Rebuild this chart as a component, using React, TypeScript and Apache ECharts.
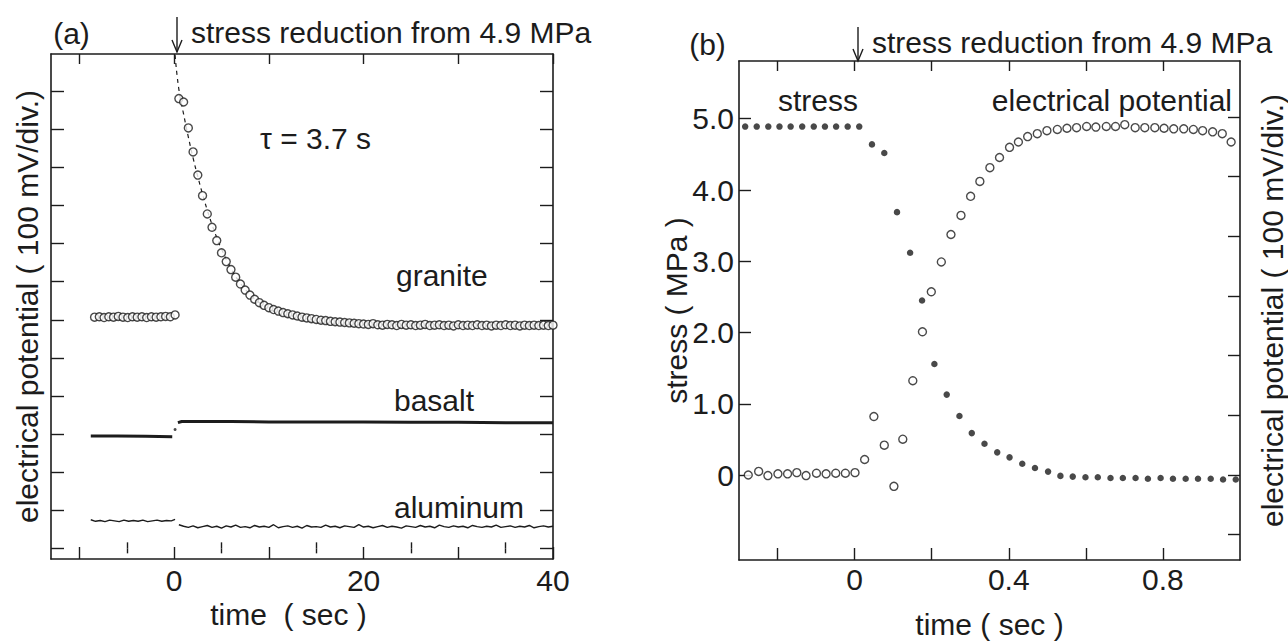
import React, { useEffect, useRef } from "react";
import * as echarts from "echarts";

// ---------- Panel (a): time (s) vs electrical potential (divisions) ----------
const granitePreT = [-8.4, -7.9, -7.4, -6.9, -6.4, -5.9, -5.4, -4.9, -4.4, -3.9, -3.4, -2.9, -2.4, -1.9, -1.4, -0.9, -0.4, 0.1];
const granitePreV = [6.07, 6.08, 6.06, 6.08, 6.07, 6.09, 6.07, 6.06, 6.08, 6.07, 6.08, 6.06, 6.08, 6.07, 6.08, 6.09, 6.08, 6.13];

const postT = [
  0.5, 1.0, 1.5, 2.0, 2.5, 3.0, 3.5, 4.0, 4.5, 5.0,
  5.5, 6.0, 6.5, 7.0, 7.5, 8.0, 8.5, 9.0, 9.5, 10.0,
  10.5, 11.0, 11.5, 12.0, 12.5, 13.0, 13.5, 14.0, 14.5, 15.0,
  15.5, 16.0, 16.5, 17.0, 17.5, 18.0, 18.5, 19.0, 19.5, 20.0,
  20.5, 21.0, 21.5, 22.0, 22.5, 23.0, 23.5, 24.0, 24.5, 25.0,
  25.5, 26.0, 26.5, 27.0, 27.5, 28.0, 28.5, 29.0, 29.5, 30.0,
  30.5, 31.0, 31.5, 32.0, 32.5, 33.0, 33.5, 34.0, 34.5, 35.0,
  35.5, 36.0, 36.5, 37.0, 37.5, 38.0, 38.5, 39.0, 39.5, 40.0,
];
const granitePostV = [
  11.81, 11.72, 11.04, 10.41, 9.80, 9.26, 8.78, 8.43, 8.08, 7.76,
  7.53, 7.32, 7.12, 6.94, 6.78, 6.65, 6.54, 6.45, 6.38, 6.32,
  6.27, 6.23, 6.19, 6.16, 6.13, 6.10, 6.07, 6.05, 6.03, 6.01,
  5.99, 5.98, 5.96, 5.95, 5.94, 5.93, 5.92, 5.91, 5.90, 5.89,
  5.88, 5.90, 5.87, 5.86, 5.88, 5.87, 5.85, 5.88, 5.86, 5.87,
  5.85, 5.86, 5.88, 5.85, 5.86, 5.87, 5.85, 5.86, 5.84, 5.87,
  5.85, 5.86, 5.85, 5.87, 5.85, 5.86, 5.84, 5.86, 5.85, 5.87,
  5.85, 5.86, 5.84, 5.86, 5.85, 5.86, 5.85, 5.86, 5.85, 5.86,
];
const graniteFitT = [0.1, 0.5, 1.0, 1.5, 2.0, 2.5, 3.0, 3.5, 4.0, 4.5, 5.0, 6.0, 7.0, 8.0, 9.0, 10.0, 12.0, 15.0, 20.0, 40.0];
const graniteFitV = [12.95, 12.05, 11.4, 10.8, 10.25, 9.76, 9.3, 8.88, 8.5, 8.16, 7.86, 7.35, 6.96, 6.67, 6.45, 6.29, 6.08, 5.94, 5.87, 5.86];

const basaltPreT = [-8.8, -6.0, -3.0, -0.2];
const basaltPreV = [2.95, 2.95, 2.94, 2.93];
const basaltJumpT = [0.1];
const basaltJumpV = [3.12];
const basaltPostT = [0.4, 0.8, 1.5, 3.0, 6.0, 10.0, 15.0, 20.0, 25.0, 30.0, 35.0, 40.0];
const basaltPostV = [3.3, 3.33, 3.33, 3.33, 3.33, 3.32, 3.32, 3.32, 3.31, 3.31, 3.3, 3.3];

const aluminumPreT = [-8.8, -8.3, -7.8, -7.3, -6.8, -6.3, -5.8, -5.3, -4.8, -4.3, -3.8, -3.3, -2.8, -2.3, -1.8, -1.3, -0.8, -0.3, 0.1];
const aluminumPreV = [0.75, 0.71, 0.73, 0.7, 0.74, 0.72, 0.7, 0.74, 0.71, 0.73, 0.71, 0.74, 0.7, 0.72, 0.74, 0.71, 0.73, 0.72, 0.76];
const aluminumPostV = [
  0.62, 0.58, 0.55, 0.59, 0.54, 0.57, 0.6, 0.55, 0.58, 0.53,
  0.59, 0.56, 0.61, 0.55, 0.57, 0.54, 0.6, 0.56, 0.58, 0.55,
  0.62, 0.54, 0.57, 0.59, 0.55, 0.58, 0.53, 0.6, 0.56, 0.57,
  0.55, 0.61, 0.56, 0.58, 0.54, 0.59, 0.57, 0.55, 0.62, 0.56,
  0.58, 0.54, 0.57, 0.6, 0.55, 0.58, 0.56, 0.53, 0.59, 0.57,
  0.55, 0.6, 0.56, 0.58, 0.54, 0.61, 0.57, 0.55, 0.59, 0.56,
  0.58, 0.54, 0.6, 0.57, 0.55, 0.58, 0.56, 0.61, 0.55, 0.57,
  0.59, 0.55, 0.58, 0.56, 0.6, 0.54, 0.57, 0.59, 0.56, 0.58,
];

const aMajorTicks = [-10, 0, 10, 20, 30, 40];
const aMinorTicks = [-5, 5, 15, 25, 35];
const aXLabels = [0, 20, 40];
const aYTicks = [0, 1, 2, 3, 4, 5, 6, 7, 8, 9, 10, 11, 12];

// ---------- Panel (b): time (s) vs stress (MPa) and potential (div) ----------
const stressT = [
  -0.284, -0.254, -0.224, -0.195, -0.166, -0.136, -0.106, -0.077, -0.048, -0.018, 0.012,
  0.045, 0.077, 0.11, 0.144, 0.175, 0.207, 0.239, 0.272, 0.304, 0.337, 0.37, 0.402, 0.435, 0.468, 0.502, 0.534,
  0.566, 0.599, 0.631, 0.664, 0.696, 0.729, 0.761, 0.794, 0.826, 0.859, 0.891, 0.924, 0.956, 0.989,
];
const stressV = [
  4.89, 4.89, 4.89, 4.89, 4.89, 4.89, 4.89, 4.89, 4.89, 4.89, 4.89,
  4.64, 4.52, 3.69, 3.12, 2.45, 1.56, 1.13, 0.83, 0.59, 0.44, 0.32, 0.25, 0.16, 0.1, 0.05, -0.01,
  -0.02, -0.03, -0.03, -0.04, -0.04, -0.04, -0.05, -0.04, -0.05, -0.05, -0.05, -0.05, -0.06, -0.06,
];
const potentialT = [
  -0.301, -0.276, -0.249, -0.225, -0.199, -0.174, -0.15, -0.126, -0.099, -0.074, -0.049, -0.024, 0.001,
  0.026, 0.05, 0.077, 0.102, 0.125, 0.151, 0.176, 0.199, 0.225, 0.25, 0.276, 0.301, 0.325, 0.351, 0.376,
  0.402, 0.425, 0.449, 0.474, 0.499, 0.526, 0.551, 0.576, 0.602, 0.626, 0.653, 0.677, 0.701, 0.728, 0.753,
  0.779, 0.803, 0.828, 0.854, 0.879, 0.903, 0.929, 0.954, 0.977,
];
const potentialV = [
  0.03, 0.0, 0.06, -0.01, 0.02, 0.02, 0.04, -0.01, 0.03, 0.02, 0.03, 0.03, 0.04,
  0.26, 0.98, 0.5, -0.19, 0.6, 1.58, 2.4, 3.07, 3.57, 4.03, 4.35, 4.67, 4.92, 5.15, 5.32,
  5.49, 5.58, 5.67, 5.72, 5.77, 5.79, 5.81, 5.82, 5.84, 5.83, 5.84, 5.84, 5.87, 5.82, 5.82,
  5.82, 5.81, 5.8, 5.8, 5.79, 5.77, 5.75, 5.72, 5.58,
];

const bXTicks = [-0.2, 0, 0.2, 0.4, 0.6, 0.8];
const bXLabels = [0, 0.4, 0.8];
const bStressTicks = [0, 1, 2, 3, 4, 5];
const bPotTicks = [-1, 0, 1, 2, 3, 4, 5, 6];

const zip = (t: number[], v: number[]) => t.map((x, i) => [x, v[i]]);

const INK = "#1c1c1c";
const FONT_FAMILY = '"Liberation Sans", Arial, Helvetica, sans-serif';
const FS = 30;

const numFmt = (v: number) => (Math.abs(v) < 1e-9 ? "0" : v.toFixed(1));

function tickAxis(extra: any) {
  return {
    type: "value",
    splitLine: { show: false },
    axisLine: { show: true, onZero: false, lineStyle: { color: INK, width: 1.6 } },
    axisTick: { show: true, inside: true, lineStyle: { color: INK, width: 1.4 } },
    axisLabel: { show: false },
    ...extra,
  };
}

const labelStyle = { color: INK, fontSize: FS, fontFamily: FONT_FAMILY };
const nameStyle = { color: INK, fontSize: FS, fontFamily: FONT_FAMILY };

function txt(text: string, x: number, y: number, align = "left") {
  return {
    type: "text",
    silent: true,
    style: {
      text,
      x,
      y,
      fill: INK,
      font: `${FS}px ${FONT_FAMILY}`,
      textAlign: align,
      textVerticalAlign: "middle",
      verticalAlign: "middle",
    },
  };
}

function arrow(x: number, y1: number, y2: number) {
  return [
    { type: "line", silent: true, shape: { x1: x, y1, x2: x, y2 }, style: { stroke: INK, lineWidth: 1.4 } },
    {
      type: "polyline",
      silent: true,
      shape: { points: [[x - 5, y2 - 12], [x, y2], [x + 5, y2 - 12]] },
      style: { stroke: INK, lineWidth: 1.4, fill: "none" },
    },
  ];
}

const openCircle = (size: number) => ({
  type: "scatter",
  symbol: "circle",
  symbolSize: size,
  itemStyle: { color: "#ffffff", borderColor: INK, borderWidth: 1.4 },
  silent: true,
});

export default function App() {
  const ref = useRef<HTMLDivElement>(null);

  useEffect(() => {
    if (!ref.current) return;
    const chart = echarts.init(ref.current, undefined, { renderer: "svg" });

    const option: any = {
      animation: false,
      backgroundColor: "#ffffff",
      grid: [
        { left: 51, top: 54, width: 502, height: 505 },
        { left: 739, top: 61, width: 502, height: 505 },
      ],
      xAxis: [
        tickAxis({
          gridIndex: 0,
          position: "bottom",
          min: -13,
          max: 40,
          axisTick: { show: true, inside: true, length: 12, customValues: aMajorTicks, lineStyle: { color: INK, width: 1.4 } },
          axisLabel: { show: true, customValues: aXLabels, margin: 6, ...labelStyle },
          name: "time  ( sec )",
          nameLocation: "middle",
          nameGap: 40,
          nameTextStyle: { ...nameStyle, padding: [0, 27, 0, 0] },
        }),
        tickAxis({
          gridIndex: 0,
          position: "bottom",
          min: -13,
          max: 40,
          axisLine: { show: false },
          axisTick: { show: true, inside: true, length: 6, customValues: aMinorTicks, lineStyle: { color: INK, width: 1.4 } },
        }),
        tickAxis({
          gridIndex: 0,
          position: "top",
          min: -13,
          max: 40,
          axisTick: { show: true, inside: true, length: 10, customValues: aMajorTicks, lineStyle: { color: INK, width: 1.4 } },
        }),
        tickAxis({
          gridIndex: 0,
          position: "top",
          min: -13,
          max: 40,
          axisLine: { show: false },
          axisTick: { show: true, inside: true, length: 5, customValues: aMinorTicks, lineStyle: { color: INK, width: 1.4 } },
        }),
        tickAxis({
          gridIndex: 1,
          position: "bottom",
          min: -0.3,
          max: 1.0,
          axisTick: { show: true, inside: true, length: 12, customValues: bXTicks, lineStyle: { color: INK, width: 1.4 } },
          axisLabel: { show: true, customValues: bXLabels, margin: 4, formatter: numFmt, ...labelStyle },
          name: "time ( sec )",
          nameLocation: "middle",
          nameGap: 49,
          nameTextStyle: nameStyle,
        }),
        tickAxis({
          gridIndex: 1,
          position: "top",
          min: -0.3,
          max: 1.0,
          axisTick: { show: true, inside: true, length: 10, customValues: bXTicks, lineStyle: { color: INK, width: 1.4 } },
        }),
      ],
      yAxis: [
        tickAxis({
          gridIndex: 0,
          position: "left",
          min: -0.28,
          max: 12.98,
          axisTick: { show: true, inside: true, length: 13, customValues: aYTicks, lineStyle: { color: INK, width: 1.4 } },
          name: "electrical potential ( 100 mV/div.)",
          nameLocation: "middle",
          nameRotate: 90,
          nameGap: 9,
          nameMoveOverlap: false,
          nameTextStyle: nameStyle,
        }),
        tickAxis({
          gridIndex: 0,
          position: "right",
          min: -0.28,
          max: 12.98,
          axisTick: { show: true, inside: true, length: 13, customValues: aYTicks, lineStyle: { color: INK, width: 1.4 } },
        }),
        tickAxis({
          gridIndex: 1,
          position: "left",
          min: -1.19,
          max: 5.81,
          axisTick: { show: true, inside: true, length: 12, customValues: bStressTicks, lineStyle: { color: INK, width: 1.4 } },
          axisLabel: { show: true, customValues: bStressTicks, margin: 5, formatter: numFmt, ...labelStyle },
          name: "stress ( MPa )",
          nameLocation: "middle",
          nameRotate: 90,
          nameGap: 48,
          nameMoveOverlap: false,
          nameTextStyle: nameStyle,
        }),
        tickAxis({
          gridIndex: 1,
          position: "right",
          min: -1.424,
          max: 6.937,
          axisTick: { show: true, inside: true, length: 12, customValues: bPotTicks, lineStyle: { color: INK, width: 1.4 } },
          name: "electrical potential ( 100 mV/div.)",
          nameLocation: "middle",
          nameRotate: 90,
          nameGap: 17,
          nameMoveOverlap: false,
          nameTextStyle: nameStyle,
        }),
      ],
      series: [
        {
          type: "line",
          name: "granite fit",
          xAxisIndex: 0,
          yAxisIndex: 0,
          data: zip(graniteFitT, graniteFitV),
          showSymbol: false,
          smooth: true,
          lineStyle: { color: INK, width: 1.2, type: [4, 4] },
          silent: true,
          z: 1,
        },
        { ...openCircle(8), name: "granite before", xAxisIndex: 0, yAxisIndex: 0, data: zip(granitePreT, granitePreV), z: 3 },
        { ...openCircle(8), name: "granite after", xAxisIndex: 0, yAxisIndex: 0, data: zip(postT, granitePostV), z: 3 },
        {
          type: "line",
          name: "basalt before",
          xAxisIndex: 0,
          yAxisIndex: 0,
          data: zip(basaltPreT, basaltPreV),
          showSymbol: false,
          lineStyle: { color: INK, width: 3 },
          silent: true,
        },
        {
          type: "scatter",
          name: "basalt step",
          xAxisIndex: 0,
          yAxisIndex: 0,
          data: zip(basaltJumpT, basaltJumpV),
          symbolSize: 3,
          itemStyle: { color: INK },
          silent: true,
        },
        {
          type: "line",
          name: "basalt after",
          xAxisIndex: 0,
          yAxisIndex: 0,
          data: zip(basaltPostT, basaltPostV),
          showSymbol: false,
          lineStyle: { color: INK, width: 3 },
          silent: true,
        },
        {
          type: "line",
          name: "aluminum before",
          xAxisIndex: 0,
          yAxisIndex: 0,
          data: zip(aluminumPreT, aluminumPreV),
          showSymbol: false,
          lineStyle: { color: INK, width: 1.4 },
          silent: true,
        },
        {
          type: "line",
          name: "aluminum after",
          xAxisIndex: 0,
          yAxisIndex: 0,
          data: zip(postT, aluminumPostV),
          showSymbol: false,
          lineStyle: { color: INK, width: 1.4 },
          silent: true,
        },
        {
          type: "scatter",
          name: "stress",
          xAxisIndex: 4,
          yAxisIndex: 2,
          data: zip(stressT, stressV),
          symbol: "circle",
          symbolSize: 6.5,
          itemStyle: { color: INK },
          silent: true,
        },
        { ...openCircle(8), name: "electrical potential", xAxisIndex: 4, yAxisIndex: 3, data: zip(potentialT, potentialV) },
      ],
      graphic: [
        txt("(a)", 71.5, 33, "center"),
        txt("(b)", 707.5, 44, "center"),
        ...arrow(177, 17, 52),
        ...arrow(858, 27, 61),
        txt("stress reduction from 4.9 MPa", 191, 32),
        txt("stress reduction from 4.9 MPa", 872, 42),
        txt("τ = 3.7 s", 260, 138),
        txt("granite", 396, 275),
        txt("basalt", 394, 400),
        txt("aluminum", 394, 507),
        txt("stress", 778, 100),
        txt("electrical potential", 1232, 100, "right"),
      ],
    };

    chart.setOption(option);
    return () => chart.dispose();
  }, []);

  return (
    <div
      ref={ref}
      style={{ position: "absolute", left: 0, top: 0, width: 1288, height: 644, background: "#ffffff" }}
    />
  );
}
